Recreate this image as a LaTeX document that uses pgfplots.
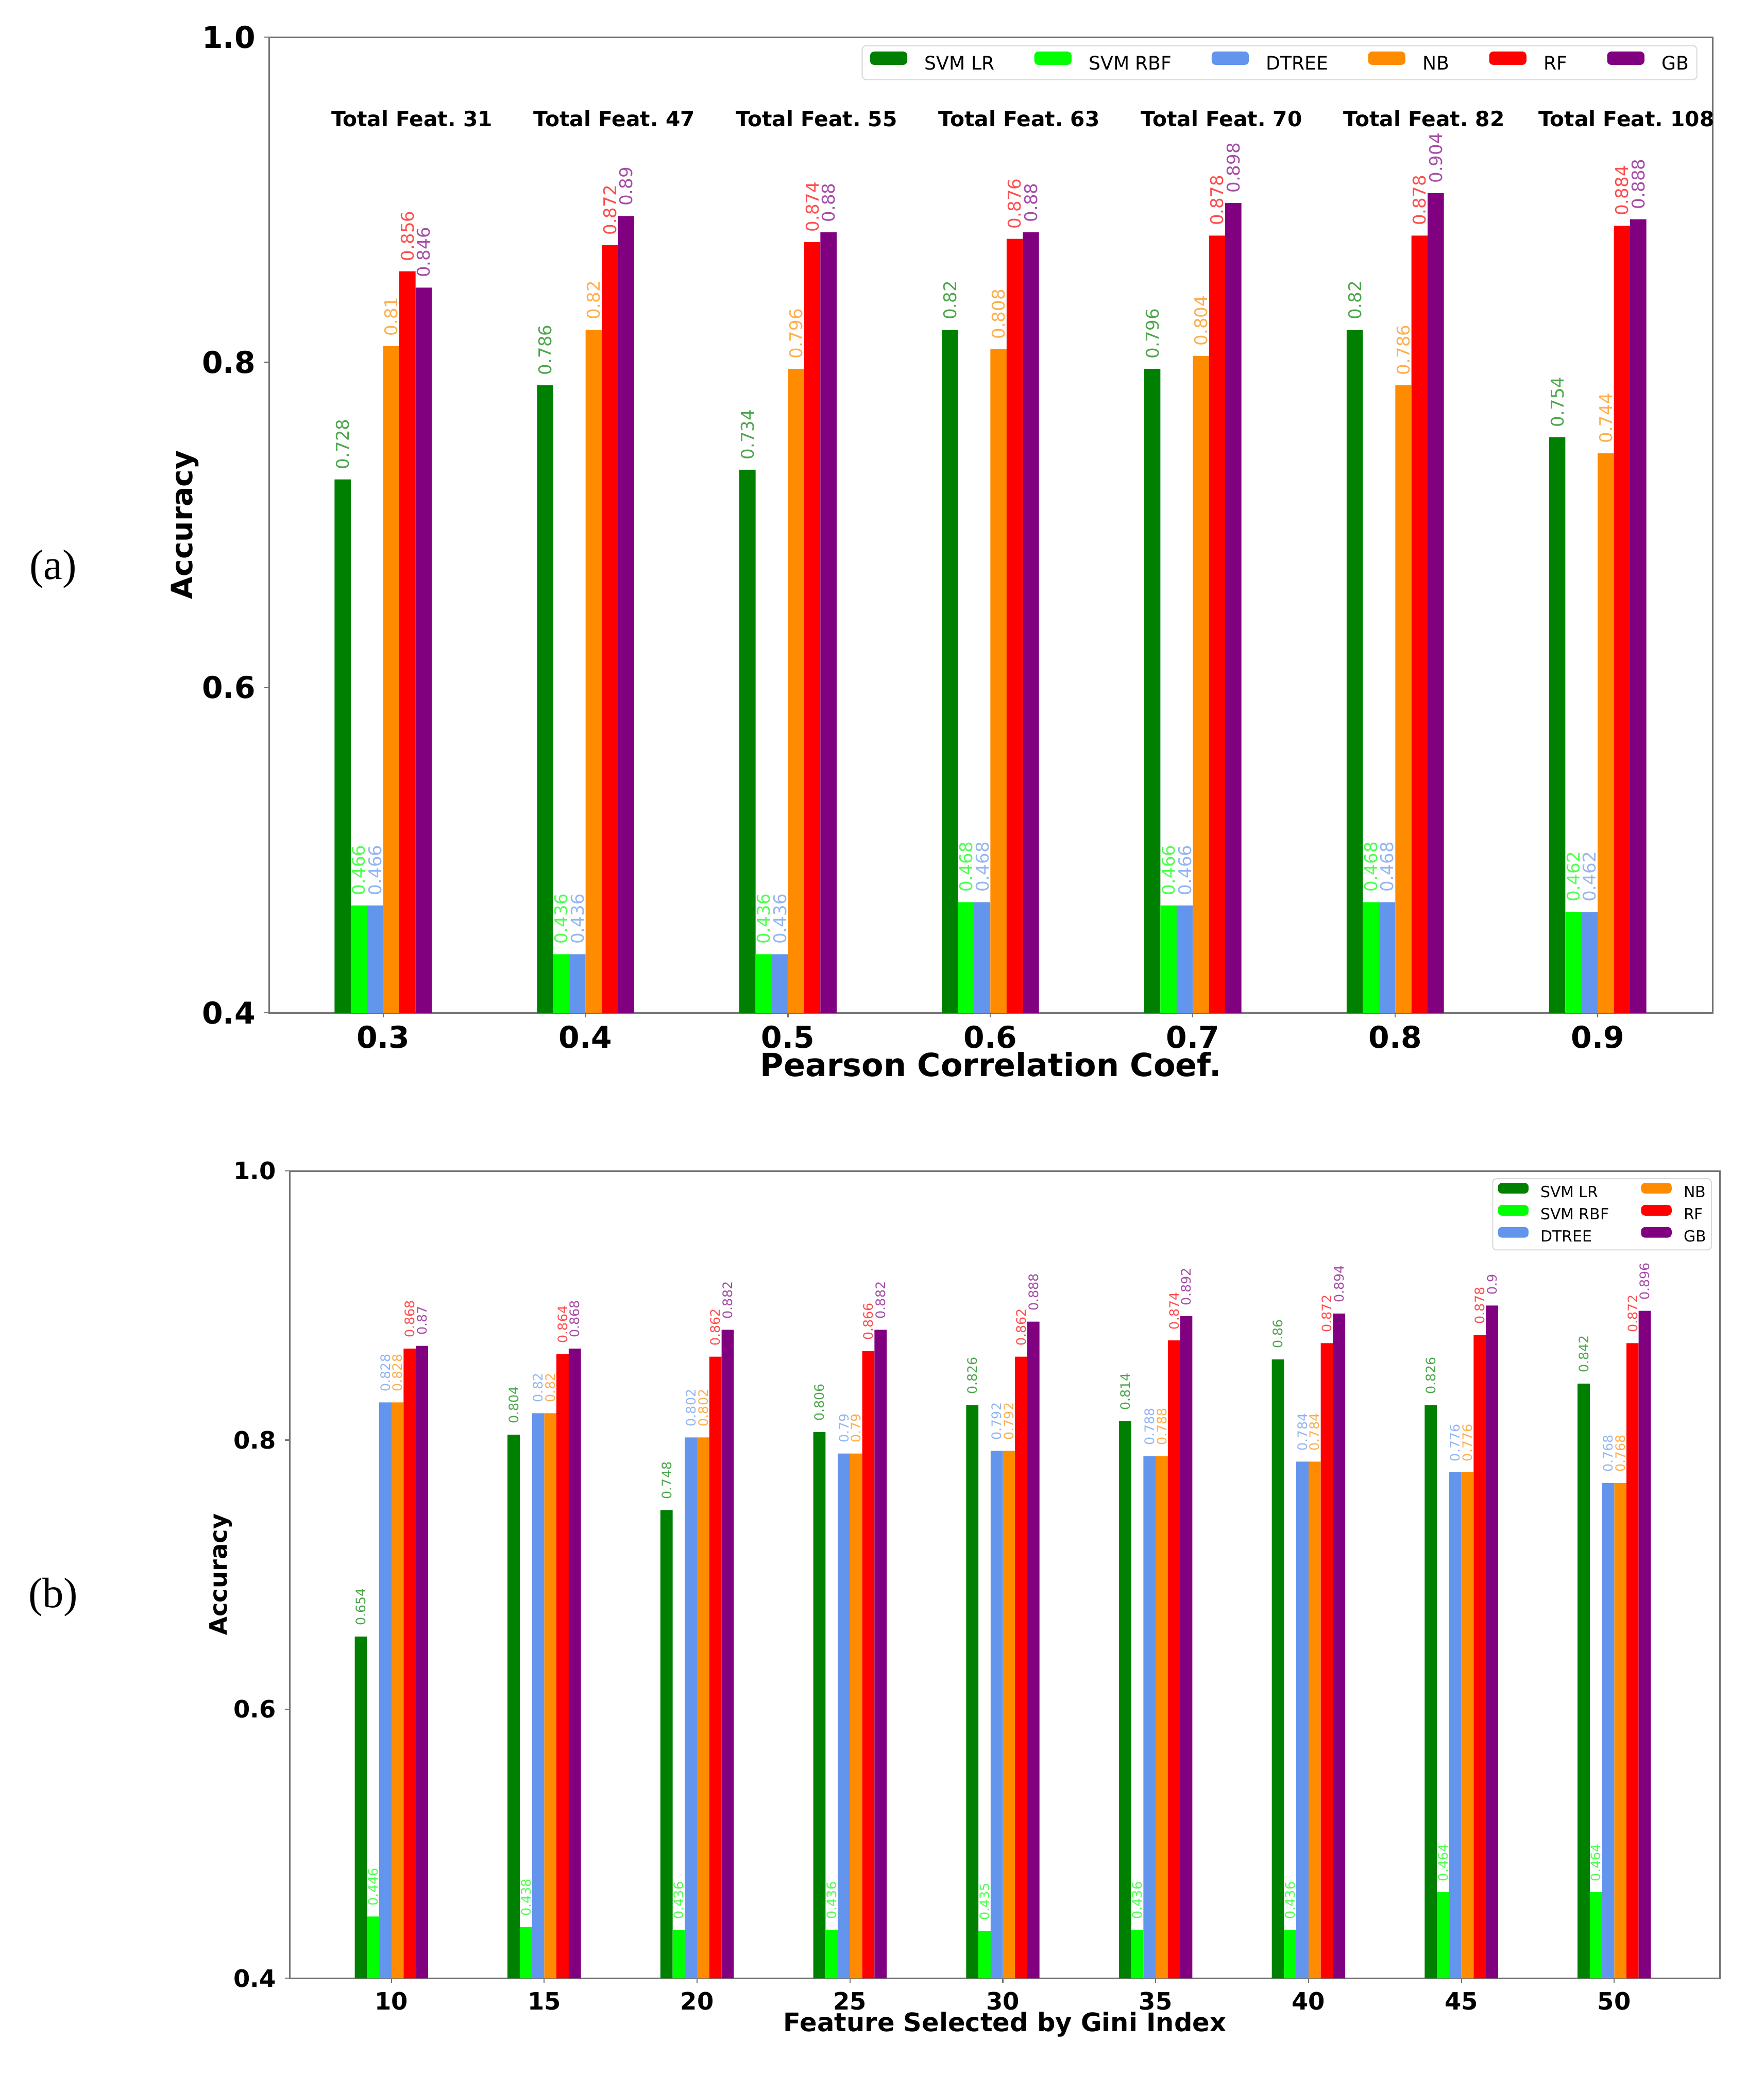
\documentclass[border=0pt]{standalone}
\usepackage{pgfplots}
\pgfplotsset{compat=1.18}
\usepackage{pgfplotstable}
\usepackage{fontspec}
\setmainfont{DejaVu Sans}
\newfontfamily\seriffont{Liberation Serif}
\frenchspacing

\definecolor{cGreen}{RGB}{0,128,0}
\definecolor{cLime}{RGB}{0,255,0}
\definecolor{cBlue}{RGB}{100,149,237}
\definecolor{cOrange}{RGB}{255,140,0}
\definecolor{cRed}{RGB}{255,0,0}
\definecolor{cPurple}{RGB}{128,0,128}

\pgfplotstableread{
x svmlr svmrbf dtree nb rf gb
0 0.728 0.466 0.466 0.81  0.856 0.846
1 0.786 0.436 0.436 0.82  0.872 0.89
2 0.734 0.436 0.436 0.796 0.874 0.88
3 0.82  0.468 0.468 0.808 0.876 0.88
4 0.796 0.466 0.466 0.804 0.878 0.898
5 0.82  0.468 0.468 0.786 0.878 0.904
6 0.754 0.462 0.462 0.744 0.884 0.888
}\tableA

\pgfplotstableread{
x svmlr svmrbf dtree nb rf gb
0 0.654 0.446 0.828 0.828 0.868 0.87
1 0.804 0.438 0.82  0.82  0.864 0.868
2 0.748 0.436 0.802 0.802 0.862 0.882
3 0.806 0.436 0.79  0.79  0.866 0.882
4 0.826 0.435 0.792 0.792 0.862 0.888
5 0.814 0.436 0.788 0.788 0.874 0.892
6 0.86  0.436 0.784 0.784 0.872 0.894
7 0.826 0.464 0.776 0.776 0.878 0.9
8 0.842 0.464 0.768 0.768 0.872 0.896
}\tableB

\pgfplotsset{
  mybar/.style n args={2}{fill=#1, draw=none, bar shift=#2,
    nodes near coords={\pgfmathprintnumber[fixed,precision=3,assume math mode=true]{\pgfplotspointmeta}},
    every node near coord/.append style={text=#1!70!white}},
  common/.style={
    scale only axis, ybar, bar width=0.08,
    ymin=0.4, ymax=1.0, ytick={0.4,0.6,0.8,1.0},
    yticklabel style={/pgf/number format/fixed, /pgf/number format/fixed zerofill, /pgf/number format/precision=1, /pgf/number format/assume math mode=true},
    xtick pos=bottom, ytick pos=left,
    tick align=outside, major tick length=1.75pt,
    tick style={black!55, line width=0.4pt},
    axis line style={black!55, line width=0.6pt},
    legend cell align=left,
  },
}

\begin{document}
\begin{tikzpicture}
\useasboundingbox (0,0) rectangle (663.5pt,-781pt);
\node[font=\seriffont\fontsize{16}{16}\selectfont] at (20pt,-214pt) {(a)};
\node[font=\seriffont\fontsize{16}{16}\selectfont] at (20pt,-600.8pt) {(b)};

% ---------------- (a) ----------------
\begin{axis}[common,
  at={(101.25pt,-381pt)}, anchor=south west,
  width=543pt, height=367pt,
  xmin=-0.563, xmax=6.568,
  xtick={0,...,6}, xticklabels={0.3,0.4,0.5,0.6,0.7,0.8,0.9},
  every x tick label/.append style={anchor=base, yshift=-11.5pt, font=\bfseries\fontsize{11.3}{11.3}\selectfont},
  every y tick label/.append style={anchor=east, inner xsep=0pt, xshift=-3.25pt, font=\bfseries\fontsize{11.3}{11.3}\selectfont},
  every axis x label/.style={at={(axis description cs:0.5,0)}, anchor=base, yshift=-24pt, font=\bfseries\fontsize{12}{12}\selectfont},
  every axis y label/.style={at={(axis description cs:0,0.5)}, xshift=-31.75pt, rotate=90, anchor=center, font=\bfseries\fontsize{11}{11}\selectfont},
  xlabel={Pearson Correlation Coef.}, ylabel={Accuracy},
  every node near coord/.append style={rotate=90, anchor=west, inner xsep=3.6pt, inner ysep=0pt, font=\fontsize{6.6}{7}\selectfont},
  legend columns=6,
  legend image code/.code={\fill[#1] (0pt,0pt) rectangle (14pt,5pt);},
  legend style={at={(1,1)}, anchor=north east, xshift=-5.75pt, yshift=-3pt,
    draw=black!15, rounded corners=1.5pt, fill=white, font=\fontsize{7}{8}\selectfont,
    inner xsep=3pt, inner ysep=2.2pt, nodes={inner sep=0pt},
    /tikz/every odd column/.append style={column sep=6.5pt},
    /tikz/every even column/.append style={column sep=15pt}},
]
\addplot[mybar={cGreen}{-0.2}]  table[x=x,y=svmlr]{\tableA}; \addlegendentry{SVM LR}
\addplot[mybar={cLime}{-0.12}]  table[x=x,y=svmrbf]{\tableA}; \addlegendentry{SVM RBF}
\addplot[mybar={cBlue}{-0.04}]  table[x=x,y=dtree]{\tableA}; \addlegendentry{DTREE}
\addplot[mybar={cOrange}{0.04}] table[x=x,y=nb]{\tableA}; \addlegendentry{NB}
\addplot[mybar={cRed}{0.12}]    table[x=x,y=rf]{\tableA}; \addlegendentry{RF}
\addplot[mybar={cPurple}{0.2}]  table[x=x,y=gb]{\tableA}; \addlegendentry{GB}
\foreach \i/\n in {0/31,1/47,2/55,3/63,4/70,5/82,6/108}{
  \edef\tmp{\noexpand\node[font=\noexpand\bfseries\noexpand\fontsize{7.9}{8}\noexpand\selectfont] at (axis cs:\i+0.142,0.95) {Total Feat. \n};}
  \tmp
}
\end{axis}

% ---------------- (b) ----------------
\begin{axis}[common,
  at={(109pt,-744.25pt)}, anchor=south west,
  width=538pt, height=303.75pt,
  xmin=-0.665, xmax=8.692,
  xtick={0,...,8}, xticklabels={10,15,20,25,30,35,40,45,50},
  every x tick label/.append style={anchor=base, yshift=-10pt, font=\bfseries\fontsize{9}{9}\selectfont},
  every y tick label/.append style={anchor=east, inner xsep=0pt, xshift=-3.25pt, font=\bfseries\fontsize{9}{9}\selectfont},
  every axis x label/.style={at={(axis description cs:0.5,0)}, anchor=base, yshift=-20pt, font=\bfseries\fontsize{9.6}{9.6}\selectfont},
  every axis y label/.style={at={(axis description cs:0,0.5)}, xshift=-26pt, rotate=90, anchor=center, font=\bfseries\fontsize{9}{9}\selectfont},
  xlabel={Feature Selected by Gini Index}, ylabel={Accuracy},
  every node near coord/.append style={rotate=90, anchor=west, inner xsep=3.9pt, inner ysep=0pt, font=\fontsize{4.9}{5.5}\selectfont},
  legend columns=2,
  legend image code/.code={\fill[#1] (0pt,0.1pt) rectangle (11.5pt,4.1pt);},
  legend style={at={(1,1)}, anchor=north east, xshift=-3pt, yshift=-2.7pt,
    draw=black!15, rounded corners=1.5pt, fill=white, font=\fontsize{5.8}{7}\selectfont,
    inner xsep=2pt, inner ysep=1.6pt, nodes={inner sep=0pt}, row sep=1.3pt,
    /tikz/every odd column/.append style={column sep=4.5pt},
    /tikz/every even column/.append style={column sep=12pt}},
]
\addplot[mybar={cGreen}{-0.2}]  table[x=x,y=svmlr]{\tableB}; \addlegendentry{SVM LR}
\addplot[mybar={cOrange}{0.04}] table[x=x,y=nb]{\tableB}; \addlegendentry{NB}
\addplot[mybar={cLime}{-0.12}]  table[x=x,y=svmrbf]{\tableB}; \addlegendentry{SVM RBF}
\addplot[mybar={cRed}{0.12}]    table[x=x,y=rf]{\tableB}; \addlegendentry{RF}
\addplot[mybar={cBlue}{-0.04}]  table[x=x,y=dtree]{\tableB}; \addlegendentry{DTREE}
\addplot[mybar={cPurple}{0.2}]  table[x=x,y=gb]{\tableB}; \addlegendentry{GB}
\end{axis}
\end{tikzpicture}
\end{document}
